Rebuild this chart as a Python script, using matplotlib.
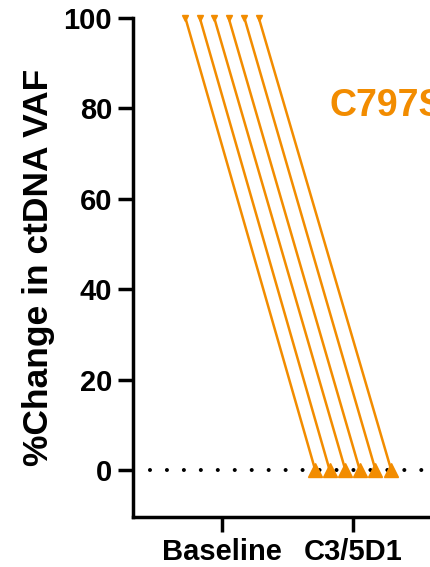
import matplotlib
matplotlib.use("Agg")
import matplotlib.pyplot as plt

plt.rcParams['font.family'] = ['Liberation Sans', 'DejaVu Sans']
plt.rcParams['font.weight'] = 'bold'

# timepoints and per-patient jitter (x offsets)
timepoints = ['Baseline', 'C3/5D1']
jitter_base = [-0.28, -0.17, -0.06, 0.05, 0.17, 0.28]
jitter_c3 = [-0.29, -0.18, -0.06, 0.05, 0.17, 0.29]
vaf_base = [100, 100, 100, 100, 100, 100]
vaf_c3 = [0, 0, 0, 0, 0, 0]

orange = '#F28C00'

fig = plt.figure(figsize=(4.31, 5.67), dpi=100)
ax = fig.add_axes([0.3086, 0.0882, 0.815, 0.880])

for jb, jc, yb, yc in zip(jitter_base, jitter_c3, vaf_base, vaf_c3):
    ax.plot([0 + jb, 1 + jc], [yb, yc], color=orange, lw=1.8, clip_on=False)
    ax.plot(0 + jb, yb, marker='v', ms=5, color=orange, clip_on=False)
    ax.plot(1 + jc, yc, marker='^', ms=10, color=orange, clip_on=False, zorder=3)

# dotted zero line
ax.axhline(0, color='black', ls=(0, (0.01, 4.2)), lw=2.9,
           dash_capstyle='round', zorder=1)

ax.text(0.82, 80.5, 'C797S', color=orange, fontsize=27, fontweight='bold',
        va='center', ha='left')

ax.set_xlim(-0.68, 2.0)
ax.set_ylim(-10.4, 100)
ax.set_xticks([0, 1])
ax.set_xticklabels(timepoints, fontsize=21, fontweight='bold')
ax.set_yticks([0, 20, 40, 60, 80, 100])
ax.tick_params(axis='both', width=2.5, length=11, labelsize=21, pad=4)
ax.set_ylabel('%Change in ctDNA VAF', fontsize=25.5, fontweight='bold', labelpad=6)

for s in ['top', 'right']:
    ax.spines[s].set_visible(False)
for s in ['left', 'bottom']:
    ax.spines[s].set_linewidth(2.5)

fig.savefig('out.png', dpi=100)
